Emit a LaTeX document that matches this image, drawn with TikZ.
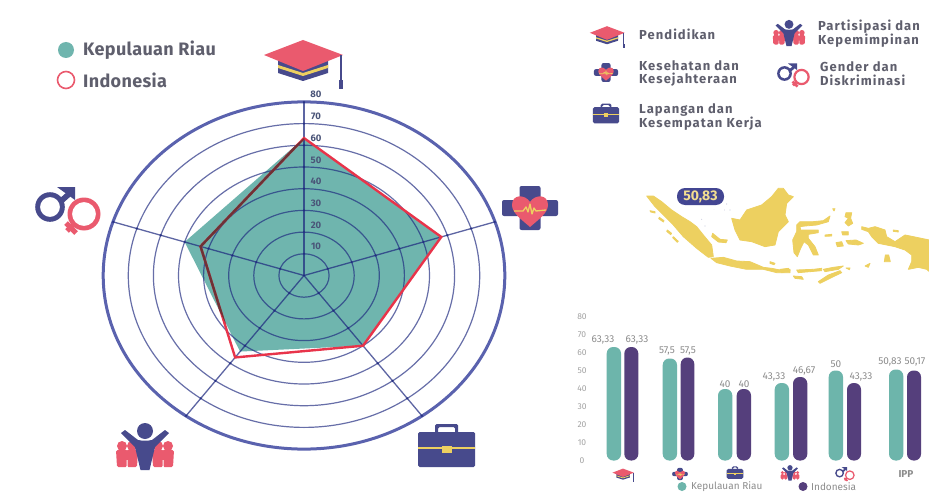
\documentclass[tikz,border=0pt]{standalone}
\usepackage{fontspec}
\setmainfont{Fira Sans}
\newfontfamily\widefont[LetterSpace=8]{Fira Sans}
\newfontfamily\legfont[LetterSpace=2]{Fira Sans}
\usetikzlibrary{calc}
\definecolor{tealc}{HTML}{6FB5AE}
\definecolor{barteal}{HTML}{6DB5AB}
\definecolor{barnavy}{HTML}{553F7C}
\definecolor{ringc}{HTML}{5A62AE}
\definecolor{gridc}{HTML}{1F2A80}
\definecolor{navyi}{HTML}{474A8C}
\definecolor{pink}{HTML}{EA5A6E}
\definecolor{goldc}{HTML}{EDD060}
\definecolor{txt}{HTML}{5F5F6D}
\definecolor{axtxt}{HTML}{4A5478}
\definecolor{grayt}{HTML}{8C8C8C}
\definecolor{redl}{HTML}{E8344A}
\definecolor{maroon}{HTML}{6E3236}
\tikzset{
  legendtext/.style={font=\legfont\bfseries\fontsize{18}{20}\selectfont,text=txt,anchor=west,inner sep=0pt},
  keytext/.style={font=\widefont\bfseries\fontsize{13}{13.8}\selectfont,text=txt,anchor=west,inner sep=0pt,align=left},
  ticktext/.style={font=\bfseries\fontsize{9.5}{10}\selectfont,text=axtxt,inner sep=0pt},
  valtext/.style={font=\fontsize{10}{11}\selectfont,text=grayt,inner sep=0pt},
  axistext/.style={font=\fontsize{8.5}{10}\selectfont,text=grayt!80,inner sep=0pt},
  mapland/.style={fill=goldc,draw=goldc,line width=.8pt,line join=round},
  pics/capicon/.style={code={
    \fill[navyi] (-25,0)--(-25,13)--(0,21)--(25,13)--(25,0)--cycle;
    \fill[goldc] (-25,5)--(0,13)--(25,5)--(25,8)--(0,16)--(-25,8)--cycle;
    \fill[pink] (-39,-5)--(0,-20)--(40,-5)--(0,11)--cycle;
    \fill[navyi] (37.4,-5)--(38.8,-5)--(38.8,21)--(37.4,21)--cycle;
    \fill[navyi] (36.4,20)--(39.8,20)--(39.8,29)--(36.4,29)--cycle;
  }},
  pics/healthicon/.style={code={
    \fill[navyi,rounded corners=2pt] (-10.5,-22)--(10.5,-22)--(10.5,22)--(-10.5,22)--cycle;
    \fill[navyi,rounded corners=2pt] (-28,-8)--(28,-8)--(28,8)--(-28,8)--cycle;
    \fill[pink] (0,19) .. controls (-8,12) and (-18,5) .. (-18,-3) .. controls (-18,-14) and (-5,-14) .. (0,-6) .. controls (5,-14) and (18,-14) .. (18,-3) .. controls (18,5) and (8,12) .. (0,19) -- cycle;
    \draw[goldc,line width=#1,line join=round] (-16,3)--(-7,3)--(-4,-1)--(-2,4)--(0,-4)--(2,6)--(4,0)--(6,3)--(16,2);
  }},
  pics/briefcase/.style={code={
    \fill[navyi,even odd rule,rounded corners=1.5pt] (-11.5,-26)--(11.5,-26)--(11.5,-15)--(-11.5,-15)--cycle (-8.5,-23)--(8.5,-23)--(8.5,-15)--(-8.5,-15)--cycle;
    \fill[navyi,rounded corners=1.5pt] (-28.5,-18)--(28.5,-18)--(28.5,17)--(-28.5,17)--cycle;
    \fill[goldc] (-28.5,-2.6)--(28.5,-2.6)--(28.5,-1.4)--(-28.5,-1.4)--cycle;
    \fill[goldc] (-5,-4.5)--(5,-4.5)--(5,3)--(-5,3)--cycle;
  }},
  pics/peopleicon/.style={code={
    \foreach \px in {-23,-13,13,23}{
      \fill[pink] (\px,-4) circle[radius=5pt];
      \fill[pink,rounded corners=1.5pt] (\px-6,0)--(\px+6,0)--(\px+5,17)--(\px-5,17)--cycle;
    }
    \fill[white] (-18.5,10)--(-17.5,10)--(-17.5,18)--(-18.5,18)--cycle (17.5,10)--(18.5,10)--(18.5,18)--(17.5,18)--cycle;
    \fill[navyi] (0,-19) circle[radius=8pt];
    \fill[navyi] (-24,-17)--(-20,-20)--(-7,-10) .. controls (-2,-9) and (2,-9) .. (7,-10) -- (20,-20)--(24,-17)--(10,-3)--(4.5,20)--(-4.5,20)--(-10,-3)--cycle;
  }},
  pics/gendericon/.style={code={
    \fill[navyi,even odd rule] (-18,-3) circle[radius=14.8pt] (-18,-3) circle[radius=10pt];
    \fill[navyi] (-10,-10)--(-6,-6)--(3,-14)--(-1,-18)--cycle;
    \fill[navyi] (-11,-23)--(7,-23)--(7,-10)--cycle;
    \fill[pink,even odd rule] (16,4) circle[radius=16.5pt] (16,4) circle[radius=12pt];
    \fill[pink] (4.2,12.2)--(7.8,15.8)--(0.8,22.8)--(-2.8,19.2)--cycle;
    \fill[pink] (6.2,24.8)--(9.8,21.2)--(-0.2,11.2)--(-3.8,14.8)--cycle;
  }},
}
\newcommand{\chartbar}[4]{\fill[#4,rounded corners=6.5pt] (#1,460.5)--(#1,#3)--(#2,#3)--(#2,460.5)--cycle;}
\begin{document}
\begin{tikzpicture}[x=1pt,y=-1pt]
\useasboundingbox (0,0) rectangle (929,492);
\fill[white] (0,0) rectangle (929,492);
% radar coordinates
\def\rcx{304}\def\rcy{275.5}\def\rsx{2.51}\def\rsy{2.17}
\coordinate (ctr) at (\rcx,\rcy);
\foreach \n/\a in {a/90,b/18,c/-54,d/-126,e/162}{
  \coordinate (end\n) at ({\rcx+\rsx*80*cos(\a)},{\rcy-\rsy*80*sin(\a)});
}
\foreach \n/\v/\a in {a/63.33/90,b/57.5/18,c/40/-54,d/43.33/-126,e/50/162}{
  \coordinate (k\n) at ({\rcx+\rsx*\v*cos(\a)},{\rcy-\rsy*\v*sin(\a)});
}
\foreach \n/\v/\a in {a/63.33/90,b/57.5/18,c/40/-54,d/46.67/-126,e/43.33/162}{
  \coordinate (i\n) at ({\rcx+\rsx*\v*cos(\a)},{\rcy-\rsy*\v*sin(\a)});
}
\fill[tealc] (ka)--(kb)--(kc)--(kd)--(ke)--cycle;
\foreach \v in {10,20,...,70}{
  \draw[gridc,opacity=.68,line width=1.2pt] (ctr) ellipse[x radius={\rsx*\v*1pt},y radius={\rsy*\v*1pt}];
}
\draw[ringc,line width=3pt] (ctr) ellipse[x radius={\rsx*80*1pt},y radius={\rsy*80*1pt}];
\foreach \n in {a,b,c,d,e}{
  \draw[gridc,opacity=.72,line width=1.3pt] (ctr)--(end\n);
}
\foreach \a in {90,18,-54,-126,162}{
  \foreach \v in {10,20,...,80}{
    \fill[gridc,opacity=.7] ({\rcx+\rsx*\v*cos(\a)},{\rcy-\rsy*\v*sin(\a)}) circle[radius=1.3pt];
  }
}
\draw[redl,line width=2.4pt,line join=miter] (ia)--(ib)--(ic)--(id)--(ie)--cycle;
\begin{scope}
  \clip (ka)--(kb)--(kc)--(kd)--(ke)--cycle;
  \draw[maroon,line width=2.4pt,line join=miter] (ia)--(ie)--(id);
\end{scope}
% radar tick labels
\foreach \v/\y in {80/94,70/116,60/138,50/160,40/181,30/203,20/225,10/246}{
  \node[ticktext] (tick\v) at (316,\y) {\v};
}
% top legend
\fill[tealc] (66,50) circle[radius=8pt];
\draw[pink,line width=1.6pt] (66,80) circle[radius=8.5pt];
\node[legendtext] (legk) at (83,50) {Kepulauan Riau};
\node[legendtext] (legi) at (83,80.5) {Indonesia};
% radar icons
\pic at (303,60) {capicon};
\pic at (530,208) {healthicon=1.3pt};
\pic at (446.5,450) {briefcase};
\pic at (145,450) {peopleicon};
\pic at (68,210) {gendericon};
% key
\pic[scale=.44] at (607,35) {capicon};
\pic[scale=.43] at (606,72.5) {healthicon=.6pt};
\pic[scale=.46] at (606,115.5) {briefcase};
\pic[scale=.56] at (789,35) {peopleicon};
\pic[scale=.5] at (793.5,75) {gendericon};
\node[keytext] (k1) at (639,34) {Pendidikan};
\node[keytext] (k2) at (639,73.5) {Kesehatan dan\\Kesejahteraan};
\node[keytext] (k3) at (639,117) {Lapangan dan\\Kesempatan Kerja};
\node[keytext] (k4) at (818,33.5) {Partisipasi dan\\Kepemimpinan};
\node[keytext] (k5) at (820,73.5) {Gender dan\\Diskriminasi};
% map, west half
\begin{scope}[shift={(640,180)},scale=.33333]
  \path[mapland] (20,48)--(40,48)--(65,65)--(95,90)--(125,110)--(150,125)--(170,140)--(190,165)--(215,195)--(220,230)--(205,232)--(170,205)--(130,170)--(100,135)--(70,105)--(45,80)--cycle;
  \path[mapland] (218,160)--(240,178)--(262,180)--(258,188)--(235,186)--(215,170)--cycle;
  \path[mapland] (30,92)--(45,95)--(45,99)--(32,96)--cycle;
  \path[mapland] (58,112)--(72,122)--(70,126)--(56,116)--cycle;
  \path[mapland] (82,150)--(95,160)--(92,164)--(80,154)--cycle;
  \path[mapland] (100,170)--(115,184)--(112,187)--(98,173)--cycle;
  \path[mapland] (213,235)--(250,232)--(290,243)--(330,245)--(370,262)--(395,265)--(420,270)--(450,268)--(450,278)--(410,278)--(370,268)--(320,268)--(270,258)--(230,248)--cycle;
  \path[mapland] (275,115)--(300,120)--(320,90)--(365,75)--(395,50)--(415,25)--(430,25)--(445,45)--(460,50)--(440,70)--(435,105)--(445,125)--(415,155)--(405,195)--(375,200)--(335,185)--(300,180)--(285,150)--cycle;
  \path[mapland] (390,245)--(405,250)--(402,254)--(390,250)--cycle;
  \fill[navyi!80] (260,72) circle[radius=1.1pt] (253,90) circle[radius=.9pt] (270,90) circle[radius=.9pt] (195,138) circle[radius=1.1pt];
  \fill[navyi!30] (222,88) circle[radius=.7pt] (185,118) circle[radius=1.6pt];
\end{scope}
% map, east half
\begin{scope}[shift={(780,180)},scale=.33333]
  \path[mapland] (60,125)--(100,125)--(130,122)--(150,108)--(145,125)--(110,135)--(75,138)--(60,140)--(62,150)--(85,150)--(115,150)--(115,158)--(85,163)--(85,175)--(105,200)--(115,225)--(100,225)--(85,195)--(72,185)--(62,205)--(52,230)--(42,218)--(38,180)--(50,155)--(50,135)--cycle;
  \path[mapland] (198,98)--(215,98)--(212,115)--(218,130)--(205,138)--(195,128)--(205,115)--(195,110)--cycle;
  \path[mapland] (185,155)--(205,155)--(205,165)--(188,165)--cycle;
  \path[mapland] (198,182)--(228,180)--(250,190)--(235,195)--(205,192)--cycle;
  \path[mapland] (168,188)--(185,185)--(190,198)--(172,200)--cycle;
  \path[mapland] (135,165)--(155,163)--(155,168)--(135,169)--cycle;
  \path[mapland] (158,86)--(165,86)--(162,93)--cycle;
  \path[mapland] (245,140)--(265,145)--(285,140)--(315,150)--(320,170)--(345,185)--(375,165)--(400,170)--(448,180)--(448,275)--(440,268)--(415,262)--(385,268)--(395,245)--(395,225)--(375,210)--(345,200)--(320,195)--(295,190)--(275,170)--(265,155)--(245,148)--cycle;
  \path[mapland] (316,225)--(326,225)--(331,245)--(313,245)--cycle;
  \path[mapland] (340,150)--(355,152)--(355,156)--(340,154)--cycle;
  \path[mapland] (0,268)--(25,265)--(30,272)--(5,278)--cycle;
  \path[mapland] (50,270)--(100,268)--(125,265)--(125,272)--(55,278)--cycle;
  \path[mapland] (130,268)--(160,262)--(190,258)--(175,268)--(135,275)--cycle;
  \path[mapland] (40,288)--(65,290)--(70,298)--(45,295)--cycle;
  \path[mapland] (115,305)--(145,285)--(180,272)--(185,278)--(150,295)--(120,310)--cycle;
  \path[mapland] (255,258)--(270,250)--(265,262)--cycle;
  \path[mapland] (198,264)--(210,264)--(208,269)--cycle;
\end{scope}
\node[fill=navyi!95!blue,rounded corners=8pt,minimum width=47pt,minimum height=17pt,inner sep=0pt,text=goldc!70!white,font=\bfseries\fontsize{14}{14}\selectfont] (pill) at (700.5,196.5) {50,83};
% bar chart
\foreach \v/\y in {80/316.7,70/334.7,60/352.7,50/370.7,40/388.7,30/406.7,20/424.7,10/442.6,0/460.5}{
  \node[axistext] (ax\v) at (582,\y) {\v};
}
\chartbar{606.7}{621}{347}{barteal}
\chartbar{624.3}{638.3}{347}{barnavy}
\chartbar{662.7}{677}{358.5}{barteal}
\chartbar{680.7}{694.3}{357.5}{barnavy}
\chartbar{718}{732.3}{389}{barteal}
\chartbar{736.7}{751}{389}{barnavy}
\chartbar{774.7}{789}{383}{barteal}
\chartbar{793}{807.3}{377}{barnavy}
\chartbar{828.7}{843}{370.5}{barteal}
\chartbar{847}{861}{383}{barnavy}
\chartbar{889}{903.3}{369.5}{barteal}
\chartbar{907}{921}{370.5}{barnavy}
\foreach \nm/\x/\y/\t in {v1/603/340/{63,33},v2/637/340/{63,33},v3/667/351/{57,5},v4/688/351/{57,5},v5/725/384/{40},v6/744/384/{40},v7/774/377/{43,33},v8/804/371/{46,67},v9/836/364/{50},v10/861/377/{43,33},v11/890/362/{50,83},v12/915/362/{50,17}}{
  \node[valtext] (\nm) at (\x,\y) {\t};
}
\pic[scale=.27] at (623,474) {capicon};
\pic[scale=.28] at (680,474) {healthicon=.4pt};
\pic[scale=.29] at (735,474) {briefcase};
\pic[scale=.33] at (790,474) {peopleicon};
\pic[scale=.3] at (845,474) {gendericon};
\node[font=\bfseries\fontsize{10}{11}\selectfont,text=grayt,inner sep=0pt] (ipp) at (906,474) {IPP};
\fill[barteal] (682,486.5) circle[radius=4.5pt];
\fill[barnavy] (803,486.5) circle[radius=4.5pt];
\node[valtext,anchor=west] (bk) at (691,486.5) {Kepulauan Riau};
\node[valtext,anchor=west] (bi) at (811,486.5) {Indonesia};
\end{tikzpicture}
\end{document}
